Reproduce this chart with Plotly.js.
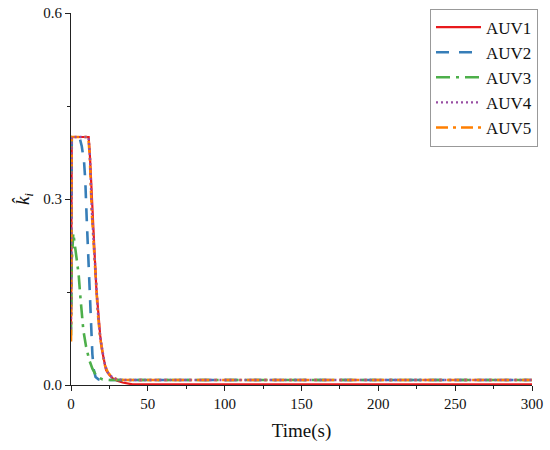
<!DOCTYPE html>
<html>
<head>
<meta charset="utf-8">
<script src="https://cdn.plot.ly/plotly-3.0.1.min.js"></script>
<style>html,body{margin:0;padding:0;background:#fff;}#chart{width:550px;height:450px;}</style>
</head>
<body>
<div id="chart"></div>
<script>
// Data
const seriesNames = ["AUV1", "AUV2", "AUV3", "AUV4", "AUV5"];

const tAUV1 = [0, 0.5, 1, 11.5, 12.4, 13.7, 14.7, 15.5, 16.5, 17.8, 19, 20.2, 21.5, 22.8, 25, 27, 30, 33.6, 40, 300];
const kAUV1 = [0.10, 0.40, 0.40, 0.40, 0.366, 0.29, 0.235, 0.205, 0.155, 0.11, 0.08, 0.056, 0.038, 0.024, 0.016, 0.011, 0.007, 0.004, 0.001, 0.001];

const tAUV2 = [0, 0.5, 5.5, 7, 8.5, 9.3, 10.2, 11, 11.5, 13, 13.9, 14.8, 16, 18, 22, 300];
const kAUV2 = [0.12, 0.40, 0.40, 0.385, 0.36, 0.33, 0.27, 0.22, 0.18, 0.10, 0.05, 0.025, 0.013, 0.009, 0.008, 0.008];

const tAUV3 = [0, 0.5, 1.5, 3.3, 5, 5.9, 7.2, 8, 9.8, 11.9, 14, 16, 18, 20.6, 25, 300];
const kAUV3 = [0.08, 0.20, 0.245, 0.207, 0.178, 0.148, 0.118, 0.089, 0.062, 0.04, 0.026, 0.017, 0.012, 0.009, 0.008, 0.008];

const tAUV4 = [0, 0.5, 11.4, 12.3, 13.6, 15.1, 16.6, 17.6, 19.1, 20.6, 22.1, 24, 27, 30, 35, 300];
const kAUV4 = [0.09, 0.40, 0.40, 0.37, 0.28, 0.21, 0.15, 0.115, 0.075, 0.05, 0.032, 0.02, 0.012, 0.009, 0.008, 0.008];

const tAUV5 = [0, 0.5, 11.3, 12.2, 13.5, 15, 16.5, 17.5, 19, 20.5, 22, 24, 27, 30, 35, 300];
const kAUV5 = [0.07, 0.40, 0.40, 0.37, 0.28, 0.21, 0.15, 0.115, 0.075, 0.05, 0.032, 0.02, 0.012, 0.009, 0.008, 0.008];

const xTicks = [0, 50, 100, 150, 200, 250, 300];
const yTicks = [0.0, 0.3, 0.6];
const yTickLabels = ["0.0", "0.3", "0.6"];

const styles = [
  {color: "#e8191c", dash: "solid", width: 2.2},
  {color: "#377eb8", dash: "13px,10px", width: 2.6},
  {color: "#4daf4a", dash: "14px,6px,3px,6px", width: 2.6},
  {color: "#984ea3", dash: "2px,3px", width: 2.4},
  {color: "#ff7f00", dash: "12px,5px,3px,5px", width: 2.6}
];
const tData = [tAUV1, tAUV2, tAUV3, tAUV4, tAUV5];
const kData = [kAUV1, kAUV2, kAUV3, kAUV4, kAUV5];
const drawOrder = [0, 1, 2, 4, 3];

const traces = drawOrder.map(i => ({
  type: "scatter",
  mode: "lines",
  name: seriesNames[i],
  x: tData[i],
  y: kData[i],
  legendrank: i + 1,
  line: {color: styles[i].color, dash: styles[i].dash, width: styles[i].width}
}));

const font = "'Liberation Serif', 'Times New Roman', serif";
const layout = {
  width: 550, height: 450,
  margin: {l: 71, r: 18, t: 13, b: 65, autoexpand: false},
  paper_bgcolor: "#fff", plot_bgcolor: "#fff",
  font: {family: font, size: 15, color: "#111"},
  showlegend: true,
  legend: {
    x: 1.013, xanchor: "right", y: 1.012, yanchor: "top",
    bordercolor: "#999", borderwidth: 1, bgcolor: "#fff",
    font: {family: font, size: 17, color: "#111"},
    itemwidth: 45
  },
  xaxis: {
    range: [0, 300], tickvals: xTicks, ticks: "outside", ticklen: 5, tickwidth: 1, tickcolor: "#222",
    minor: {dtick: 25, ticks: "outside", ticklen: 3, tickcolor: "#222"},
    showline: true, linecolor: "#222", linewidth: 1, showgrid: false, zeroline: false,
    tickfont: {family: font, size: 15},
    title: {text: "Time(s)", font: {family: font, size: 19}, standoff: 12}
  },
  yaxis: {
    range: [0, 0.6], tickvals: yTicks, ticktext: yTickLabels, ticks: "outside", ticklen: 5, tickwidth: 1, tickcolor: "#222",
    minor: {tickvals: [0.15, 0.45], ticks: "outside", ticklen: 3, tickcolor: "#222"},
    showline: true, linecolor: "#222", linewidth: 1, showgrid: false, zeroline: false,
    tickfont: {family: font, size: 15},
    title: {text: "<i>k\u0302</i><sub><i>i</i></sub>", font: {family: font, size: 19}, standoff: 8}
  }
};
Plotly.newPlot("chart", traces, layout, {displayModeBar: false, staticPlot: true});
</script>
</body>
</html>
